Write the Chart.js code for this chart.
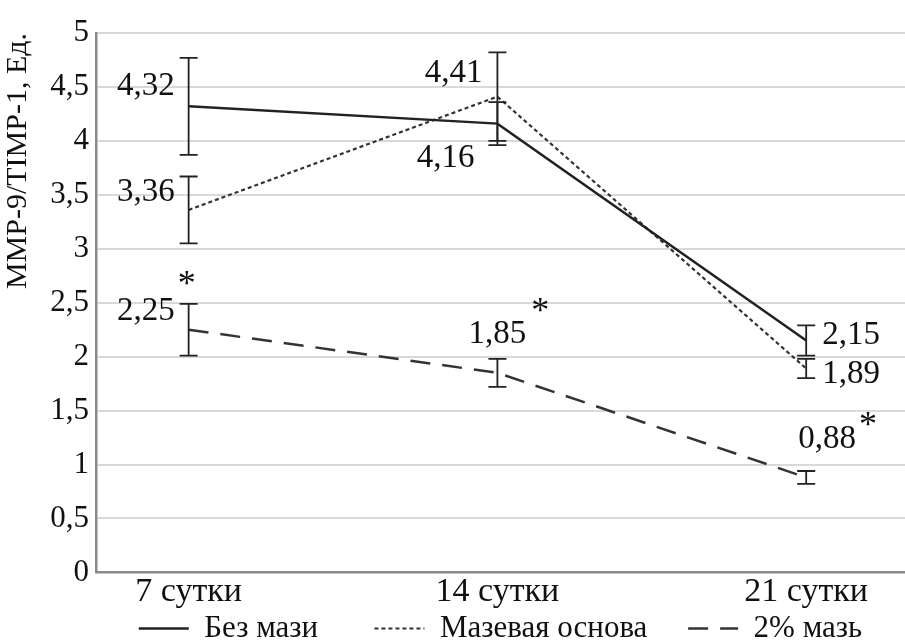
<!DOCTYPE html>
<html>
<head>
<meta charset="utf-8">
<script src="https://cdn.jsdelivr.net/npm/chart.js@4"></script>
<style>
  html, body { margin: 0; padding: 0; background: #fff; }
  #wrap { width: 905px; height: 644px; }
</style>
</head>
<body>
<div id="wrap"><canvas id="chart" width="905" height="644"></canvas></div>
<script>
// categories and series
const categories = ["7 сутки", "14 сутки", "21 сутки"];
const seriesNames = ["Без мази", "Мазевая основа", "2% мазь"];
const bezMazi = [4.32, 4.16, 2.15];
const mazevaya = [3.36, 4.41, 1.89];
const maz2 = [2.25, 1.85, 0.88];
// error bar half-widths
const errBezMazi = [0.45, 0.2, 0.14];
const errMazevaya = [0.31, 0.41, 0.09];
const errMaz2 = [0.24, 0.13, 0.06];
// significance marks (*)
const sigBezMazi = [false, false, false];
const sigMazevaya = [false, false, false];
const sigMaz2 = [true, true, true];
const yMin = 0, yMax = 5, yStep = 0.5;

const FONT = "'Liberation Serif', 'Times New Roman', serif";

// label placement relative to point: [dx, dy, align, starDx, starDy]
const labelPos = [
  [[-14, -20, "right"], [-23, 35, "right"], [16, -5, "left"]],
  [[-14, -18, "right"], [-15, -23, "right"], [16, 6, "left"]],
  [[-14, -18, "right", 12, -26], [0, -38, "center", 14, -22], [-8, -38, "left", 12, -13]]
];
// extra gap after each legend entry (spaces)
const legendGap = ["       ", "     ", ""];

const values = [bezMazi, mazevaya, maz2];
const errors = [errBezMazi, errMazevaya, errMaz2];
const signs = [sigBezMazi, sigMazevaya, sigMaz2];
const styles = [
  { color: "#222", width: 2.5, dash: [] },
  { color: "#333", width: 2.2, dash: [4, 3] },
  { color: "#333", width: 2.5, dash: [20, 12] }
];

const fmt = v => String(v).replace(".", ",");

const errorBars = {
  id: "errorBars",
  afterDatasetsDraw(chart) {
    const ctx = chart.ctx;
    const ys = chart.scales.y;
    ctx.save();
    ctx.strokeStyle = "#222";
    ctx.lineWidth = 1.8;
    ctx.setLineDash([]);
    chart.data.datasets.forEach((ds, i) => {
      chart.getDatasetMeta(i).data.forEach((pt, j) => {
        const v = values[i][j], e = errors[i][j];
        const top = ys.getPixelForValue(v + e);
        const bot = ys.getPixelForValue(v - e);
        ctx.beginPath();
        ctx.moveTo(pt.x, top); ctx.lineTo(pt.x, bot);
        ctx.moveTo(pt.x - 9, top); ctx.lineTo(pt.x + 9, top);
        ctx.moveTo(pt.x - 9, bot); ctx.lineTo(pt.x + 9, bot);
        ctx.stroke();
      });
    });
    ctx.restore();
  }
};

const valueLabels = {
  id: "valueLabels",
  afterDraw(chart) {
    const ctx = chart.ctx;
    ctx.save();
    ctx.fillStyle = "#111";
    ctx.textBaseline = "middle";
    chart.data.datasets.forEach((ds, i) => {
      chart.getDatasetMeta(i).data.forEach((pt, j) => {
        const p = labelPos[i][j];
        const txt = fmt(values[i][j]);
        ctx.font = "33px " + FONT;
        ctx.textAlign = p[2];
        const x = pt.x + p[0], y = pt.y + p[1];
        ctx.fillText(txt, x, y);
        if (signs[i][j]) {
          const w = ctx.measureText(txt).width;
          let right = x;
          if (p[2] === "left") right = x + w;
          if (p[2] === "center") right = x + w / 2;
          ctx.font = "36px " + FONT;
          ctx.textAlign = "center";
          ctx.fillText("*", right + p[3], y + p[4]);
        }
      });
    });
    ctx.restore();
  }
};

const datasets = seriesNames.map((name, i) => ({
  label: name,
  data: values[i].map((v, j) => ({ x: j, y: v })),
  borderColor: styles[i].color,
  backgroundColor: styles[i].color,
  borderWidth: styles[i].width,
  borderDash: styles[i].dash,
  pointRadius: 0,
  pointHoverRadius: 0,
  tension: 0,
  fill: false
}));

new Chart(document.getElementById("chart"), {
  type: "line",
  data: { datasets: datasets },
  options: {
    responsive: false,
    animation: false,
    layout: { padding: { top: 33, right: 0, left: 0, bottom: -10 } },
    plugins: {
      tooltip: { enabled: false },
      legend: {
        position: "bottom",
        fullSize: false,
        labels: {
          usePointStyle: true,
          pointStyle: "line",
          pointStyleWidth: 50,
          boxHeight: 8,
          padding: 2,
          color: "#111",
          font: { family: FONT, size: 31, lineHeight: 0.9 },
          generateLabels: chart => chart.data.datasets.map((ds, i) => ({
            text: ds.label + legendGap[i],
            datasetIndex: i,
            pointStyle: "line",
            strokeStyle: styles[i].color,
            fillStyle: styles[i].color,
            fontColor: "#111",
            lineWidth: styles[i].width,
            lineDash: styles[i].dash,
            hidden: false
          }))
        }
      }
    },
    scales: {
      x: {
        type: "linear",
        min: -0.3,
        max: 2.32,
        afterBuildTicks: axis => { axis.ticks = categories.map((c, i) => ({ value: i })); },
        ticks: {
          callback: v => categories[v],
          color: "#111",
          font: { family: FONT, size: 34, lineHeight: 0.9 },
          padding: 4,
          maxRotation: 0,
          autoSkip: false
        },
        grid: { display: false, drawTicks: false },
        border: { display: true, color: "#8a8a8a", width: 2.5 }
      },
      y: {
        min: yMin,
        max: yMax,
        ticks: {
          stepSize: yStep,
          autoSkip: false,
          callback: v => fmt(v),
          color: "#111",
          font: { family: FONT, size: 31 },
          padding: 7
        },
        grid: { color: "#d9d9d9", lineWidth: 2, drawTicks: false },
        border: { display: true, color: "#8a8a8a", width: 2.5 },
        title: {
          display: true,
          text: "MMP-9/TIMP-1, Ед.",
          align: "end",
          color: "#111",
          font: { family: FONT, size: 30 },
          padding: { top: 0, bottom: 0 }
        },
        afterFit: s => { s.width = 96; }
      }
    }
  },
  plugins: [errorBars, valueLabels]
});
</script>
</body>
</html>
